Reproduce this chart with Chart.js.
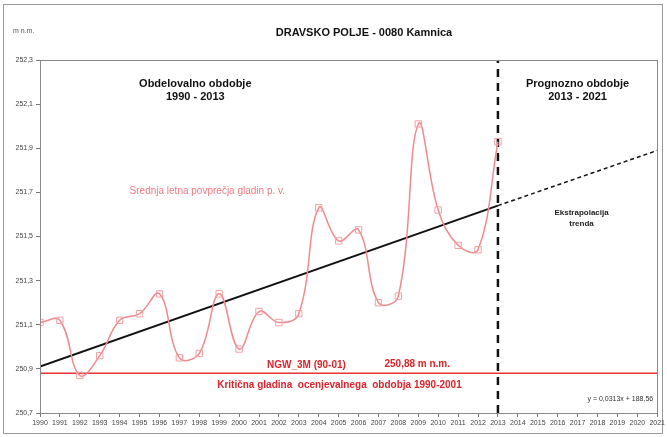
<!DOCTYPE html>
<html>
<head>
<meta charset="utf-8">
<script src="https://cdn.jsdelivr.net/npm/chart.js@4/dist/chart.umd.min.js"></script>
<style>
  html, body { margin: 0; padding: 0; background: #fff; }
  #wrap { width: 667px; height: 437px; position: relative; }
</style>
</head>
<body>
<div id="wrap"><canvas id="grafikon" width="667" height="437"></canvas></div>
<script>
// Leta in srednje letne gladine (m n.m.)
var leta = [1990, 1991, 1992, 1993, 1994, 1995, 1996, 1997, 1998, 1999, 2000, 2001,
            2002, 2003, 2004, 2005, 2006, 2007, 2008, 2009, 2010, 2011, 2012, 2013];
var gladine = [251.11, 251.12, 250.87, 250.96, 251.12, 251.15, 251.24, 250.95, 250.97, 251.24, 250.99, 251.16,
               251.11, 251.15, 251.63, 251.48, 251.53, 251.20, 251.23, 252.01, 251.62, 251.46, 251.44, 251.93];

// Linearni trend (obdelovalno obdobje + ekstrapolacija)
var trendLeta = [1990, 2013];
var trendVrednosti = [250.91, 251.64];
var ekstraLeta = [2013, 2021];
var ekstraVrednosti = [251.64, 251.89];

// Kriticna gladina NGW_3M
var kriticnaGladina = 250.88;
var kriticnaLeta = [1990, 2021];

// Locnica med obdobjema
var locnicaLeto = 2013;

// Osi
var xMin = 1990, xMax = 2021;
var yMin = 250.7, yMax = 252.3, yKorak = 0.2;

function tocke(xs, ys) {
    return xs.map(function(x, i) { return { x: x, y: ys[i] }; });
}

var pisava = "'Liberation Sans', Arial, sans-serif";

// Napisi v grafu
var napisi = [
    { t: 'Obdelovalno obdobje', x: 1997.8, y: 252.193, font: 'bold 11px ' + pisava, c: '#111', a: 'center' },
    { t: '1990 - 2013', x: 1997.8, y: 252.133, font: 'bold 11px ' + pisava, c: '#111', a: 'center' },
    { t: 'Prognozno obdobje', x: 2017.0, y: 252.193, font: 'bold 11px ' + pisava, c: '#111', a: 'center' },
    { t: '2013 - 2021', x: 2017.0, y: 252.133, font: 'bold 11px ' + pisava, c: '#111', a: 'center' },
    { t: 'Srednja letna povprečja gladin p. v.', x: 1994.5, y: 251.703, font: '10px ' + pisava, c: '#f07a80', a: 'left' },
    { t: 'Ekstrapolacija', x: 2017.2, y: 251.608, font: 'bold 8px ' + pisava, c: '#222', a: 'center' },
    { t: 'trenda', x: 2017.2, y: 251.558, font: 'bold 8px ' + pisava, c: '#222', a: 'center' },
    { t: 'NGW_3M (90-01)', x: 2001.4, y: 250.915, font: 'bold 10px ' + pisava, c: '#d9252b', a: 'left' },
    { t: '250,88 m n.m.', x: 2007.3, y: 250.92, font: 'bold 10px ' + pisava, c: '#d9252b', a: 'left' },
    { t: 'Kritična gladina  ocenjevalnega  obdobja 1990-2001', x: 1998.9, y: 250.826, font: 'bold 10px ' + pisava, c: '#d9252b', a: 'left' },
    { t: 'y = 0,0313x + 188,56', x: 2020.8, y: 250.765, font: '7px ' + pisava, c: '#333', a: 'right' }
];

var napisiPlugin = {
    id: 'napisi',
    afterDatasetsDraw: function(chart) {
        var c = chart.ctx, xs = chart.scales.x, ys = chart.scales.y, ca = chart.chartArea;
        c.save();
        // okvir risalne povrsine
        c.strokeStyle = '#8a8a8a';
        c.lineWidth = 1;
        c.strokeRect(Math.round(ca.left) + 0.5, Math.round(ca.top) + 0.5, Math.round(ca.right - ca.left), Math.round(ca.bottom - ca.top));
        c.textBaseline = 'middle';
        napisi.forEach(function(n) {
            c.font = n.font;
            c.fillStyle = n.c;
            c.textAlign = n.a;
            c.fillText(n.t, xs.getPixelForValue(n.x), ys.getPixelForValue(n.y));
        });
        c.restore();
    },
    beforeDraw: function(chart) {
        var c = chart.ctx;
        c.save();
        c.fillStyle = '#fff';
        c.fillRect(0, 0, chart.width, chart.height);
        c.strokeStyle = '#9a9a9a';
        c.lineWidth = 1;
        c.strokeRect(3.5, 4.5, chart.width - 8, chart.height - 8);
        // naslov in enota
        c.fillStyle = '#111';
        c.font = 'bold 11px ' + pisava;
        c.textAlign = 'center';
        c.textBaseline = 'middle';
        c.fillText('DRAVSKO POLJE - 0080 Kamnica', 364, 33);
        c.font = '7px ' + pisava;
        c.fillStyle = '#555';
        c.textAlign = 'left';
        c.fillText('m n.m.', 13, 31);
        c.restore();
    }
};

var ctx = document.getElementById('grafikon').getContext('2d');
var grafikon = new Chart(ctx, {
    type: 'line',
    data: {
        datasets: [
            {
                label: 'Srednja letna povprečja gladin p. v.',
                data: tocke(leta, gladine),
                borderColor: '#f08a8e',
                borderWidth: 1.5,
                tension: 0.4,
                pointStyle: 'rect',
                pointRadius: 4.5,
                pointBorderWidth: 1,
                pointBorderColor: '#f4a0a3',
                pointBackgroundColor: 'rgba(255,255,255,0)'
            },
            {
                label: 'Trend',
                data: tocke(trendLeta, trendVrednosti),
                borderColor: '#111',
                borderWidth: 2,
                pointRadius: 0
            },
            {
                label: 'Ekstrapolacija',
                data: tocke(ekstraLeta, ekstraVrednosti),
                borderColor: '#111',
                borderWidth: 1.5,
                borderDash: [4, 3],
                pointRadius: 0
            },
            {
                label: 'NGW_3M',
                data: tocke(kriticnaLeta, [kriticnaGladina, kriticnaGladina]),
                borderColor: '#e8353b',
                borderWidth: 1.5,
                pointRadius: 0
            },
            {
                label: 'Locnica',
                data: tocke([locnicaLeto, locnicaLeto], [yMin, yMax]),
                borderColor: '#111',
                borderWidth: 2.5,
                borderDash: [8, 6],
                pointRadius: 0
            }
        ]
    },
    options: {
        responsive: false,
        animation: false,
        layout: { padding: { top: 60, right: 9, left: 0, bottom: 0 } },
        plugins: {
            legend: { display: false },
            tooltip: { enabled: false },
            title: { display: false }
        },
        scales: {
            x: {
                type: 'linear',
                min: xMin,
                max: xMax,
                afterFit: function(s) { s.height = 24; },
                ticks: {
                    stepSize: 1,
                    autoSkip: false,
                    maxRotation: 0,
                    padding: 2,
                    color: '#444',
                    font: { family: pisava, size: 7 },
                    callback: function(v) { return String(v); }
                },
                grid: { drawOnChartArea: false, tickLength: 4, color: '#777' },
                border: { color: '#777' }
            },
            y: {
                type: 'linear',
                min: yMin,
                max: yMax,
                afterFit: function(s) { s.width = 40; },
                ticks: {
                    stepSize: yKorak,
                    padding: 3,
                    color: '#444',
                    font: { family: pisava, size: 7 },
                    callback: function(v) { return v.toFixed(1).replace('.', ','); }
                },
                grid: { drawOnChartArea: false, tickLength: 4, color: '#777' },
                border: { color: '#777' }
            }
        }
    },
    plugins: [napisiPlugin]
});
</script>
</body>
</html>
